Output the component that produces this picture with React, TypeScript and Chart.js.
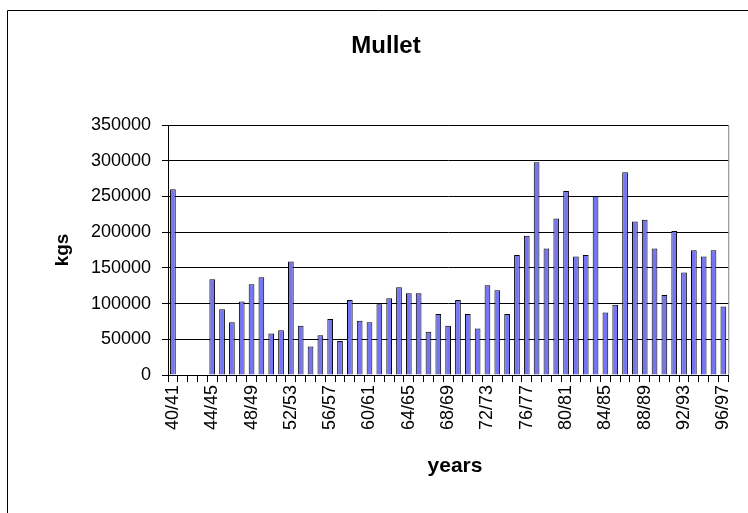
import React, { useEffect, useRef } from "react";
import { Chart, registerables } from "chart.js";

Chart.register(...registerables);

const categories: string[] = [
  "40/41","41/42","42/43","43/44","44/45","45/46","46/47","47/48","48/49","49/50",
  "50/51","51/52","52/53","53/54","54/55","55/56","56/57","57/58","58/59","59/60",
  "60/61","61/62","62/63","63/64","64/65","65/66","66/67","67/68","68/69","69/70",
  "70/71","71/72","72/73","73/74","74/75","75/76","76/77","77/78","78/79","79/80",
  "80/81","81/82","82/83","83/84","84/85","85/86","86/87","87/88","88/89","89/90",
  "90/91","91/92","92/93","93/94","94/95","95/96","96/97",
];

const mulletKgs: number[] = [
  260000, 0, 0, 0, 134000, 92000, 74000, 103000, 127000, 137000,
  58000, 62500, 159000, 69000, 40000, 55500, 78500, 47500, 105000, 76000,
  74000, 99000, 107500, 123000, 114500, 114500, 60500, 85500, 69000, 105000,
  85500, 65000, 125500, 118500, 85500, 168000, 195000, 298000, 177000, 219000,
  257500, 166000, 168000, 250500, 87500, 98500, 284000, 215000, 217500, 177000,
  112000, 201500, 143500, 174500, 166000, 174500, 96000,
];

const yTicks: number[] = [0, 50000, 100000, 150000, 200000, 250000, 300000, 350000];
const labelEvery = 4;

const FONT = "'Liberation Sans', Arial, Helvetica, sans-serif";

const decorPlugin = {
  id: "decor",
  beforeDraw(chart: any) {
    const ctx = chart.ctx;
    const a = chart.chartArea;
    ctx.save();
    ctx.fillStyle = "#fff";
    ctx.fillRect(0, 0, chart.width, chart.height);
    ctx.strokeStyle = "#000";
    ctx.lineWidth = 1;
    ctx.beginPath();
    ctx.moveTo(7.5, chart.height + 5);
    ctx.lineTo(7.5, 10.5);
    ctx.lineTo(chart.width + 5, 10.5);
    ctx.stroke();
    ctx.strokeStyle = "#808080";
    ctx.beginPath();
    ctx.moveTo(a.left, a.top + 0.5);
    ctx.lineTo(a.right + 0.5, a.top + 0.5);
    ctx.lineTo(a.right + 0.5, a.bottom);
    ctx.stroke();
    ctx.restore();
  },
  afterDraw(chart: any) {
    const ctx = chart.ctx;
    ctx.save();
    ctx.fillStyle = "#000";
    ctx.textAlign = "center";
    ctx.textBaseline = "middle";
    ctx.font = `bold 24px ${FONT}`;
    ctx.fillText("Mullet", 386, 46);
    ctx.font = `bold 21px ${FONT}`;
    ctx.fillText("years", 455, 466);
    ctx.translate(63, 250);
    ctx.rotate(-Math.PI / 2);
    ctx.font = `bold 19px ${FONT}`;
    ctx.fillText("kgs", 0, 0);
    ctx.restore();
  },
};

export default function App() {
  const ref = useRef<HTMLCanvasElement | null>(null);
  useEffect(() => {
    if (!ref.current) return;
    const chart = new Chart(ref.current, {
      type: "bar",
      data: {
        labels: categories,
        datasets: [
          {
            label: "Mullet",
            data: mulletKgs,
            backgroundColor: "#7575f2",
            borderColor: "#000",
            borderWidth: 1,
            barPercentage: 0.58,
            categoryPercentage: 1,
          },
        ],
      },
      options: {
        animation: false,
        responsive: false,
        devicePixelRatio: 1,
        layout: { padding: { top: 125, right: 6, left: 0, bottom: 0 } },
        plugins: {
          legend: { display: false },
          title: { display: false },
          tooltip: { enabled: false },
        },
        scales: {
          x: {
            type: "category",
            grid: {
              offset: true,
              drawOnChartArea: false,
              drawTicks: true,
              tickLength: 7,
              color: "#000",
            },
            border: { display: true, color: "#000" },
            ticks: {
              autoSkip: false,
              maxRotation: 90,
              minRotation: 90,
              padding: 3,
              color: "#000",
              font: { family: FONT, size: 18 },
              callback: (_v: any, i: number) => (i % labelEvery === 0 ? categories[i] : ""),
            },
            afterFit: (s: any) => {
              s.height = 138;
            },
          },
          y: {
            min: 0,
            max: 350000,
            afterBuildTicks: (s: any) => {
              s.ticks = yTicks.map((v) => ({ value: v }));
            },
            grid: {
              color: "#000",
              lineWidth: 1,
              tickLength: 6,
            },
            border: { display: true, color: "#000" },
            ticks: {
              padding: 11,
              color: "#000",
              font: { family: FONT, size: 18 },
              callback: (v: any) => String(v),
            },
            afterFit: (s: any) => {
              s.width = 168;
            },
          },
        },
      },
      plugins: [decorPlugin],
    });
    return () => chart.destroy();
  }, []);
  return (
    <div style={{ position: "absolute", left: 0, top: 0, width: 748, height: 513 }}>
      <canvas ref={ref} width={748} height={513} style={{ display: "block" }} />
    </div>
  );
}
